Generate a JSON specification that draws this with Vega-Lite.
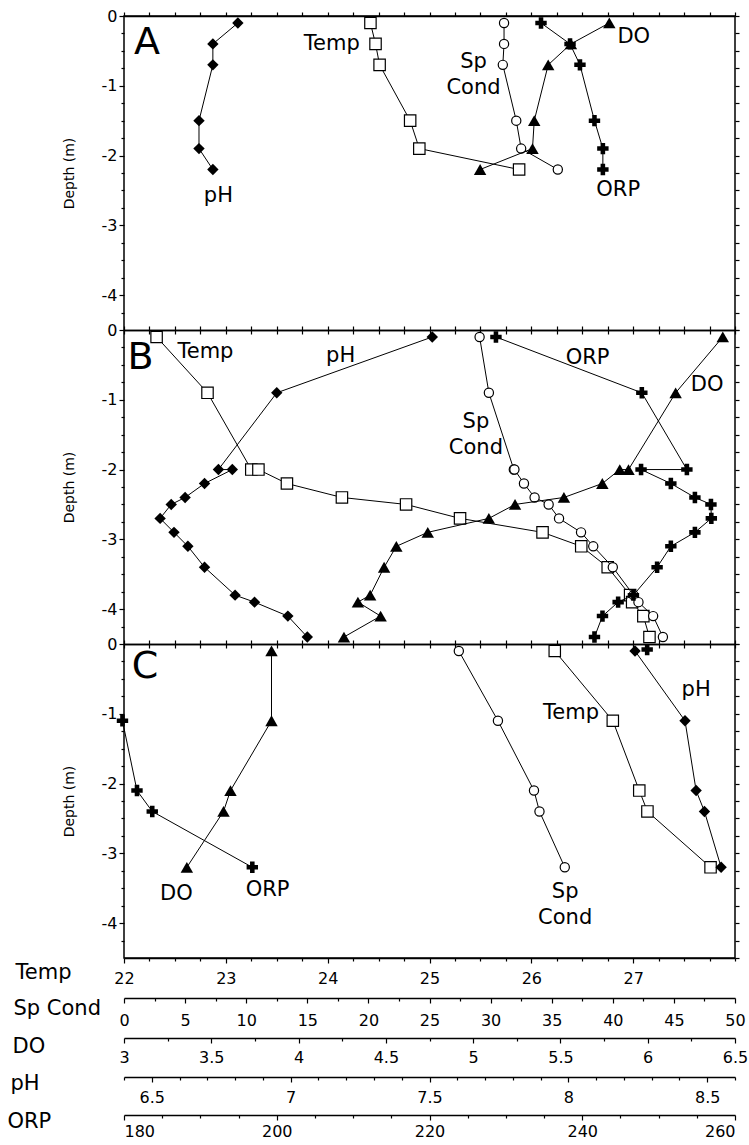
{
"$schema": "https://vega.github.io/schema/vega-lite/v6.json",
"background": "white",
"autosize": "none",
"padding": {"left": 124, "top": 16, "right": 14, "bottom": 187},
"width": 611,
"height": 942,
"datasets": {
"prof": [
{"p":"A","v":"Temp","d":-0.1,"x":24.42},{"p":"A","v":"Temp","d":-0.4,"x":24.47},{"p":"A","v":"Temp","d":-0.7,"x":24.51},{"p":"A","v":"Temp","d":-1.5,"x":24.81},{"p":"A","v":"Temp","d":-1.9,"x":24.90},{"p":"A","v":"Temp","d":-2.2,"x":25.88},
{"p":"A","v":"pH","d":-0.1,"x":6.81},{"p":"A","v":"pH","d":-0.4,"x":6.72},{"p":"A","v":"pH","d":-0.7,"x":6.72},{"p":"A","v":"pH","d":-1.5,"x":6.67},{"p":"A","v":"pH","d":-1.9,"x":6.67},{"p":"A","v":"pH","d":-2.2,"x":6.72},
{"p":"A","v":"SpC","d":-0.1,"x":31.1},{"p":"A","v":"SpC","d":-0.4,"x":31.1},{"p":"A","v":"SpC","d":-0.7,"x":31.0},{"p":"A","v":"SpC","d":-1.5,"x":32.1},{"p":"A","v":"SpC","d":-1.9,"x":32.5},{"p":"A","v":"SpC","d":-2.2,"x":35.5},
{"p":"A","v":"DO","d":-0.1,"x":5.78},{"p":"A","v":"DO","d":-0.4,"x":5.56},{"p":"A","v":"DO","d":-0.7,"x":5.43},{"p":"A","v":"DO","d":-1.5,"x":5.35},{"p":"A","v":"DO","d":-1.9,"x":5.34},{"p":"A","v":"DO","d":-2.2,"x":5.04},
{"p":"A","v":"ORP","d":-0.1,"x":234.6},{"p":"A","v":"ORP","d":-0.4,"x":238.4},{"p":"A","v":"ORP","d":-0.7,"x":239.7},{"p":"A","v":"ORP","d":-1.5,"x":241.6},{"p":"A","v":"ORP","d":-1.9,"x":242.7},{"p":"A","v":"ORP","d":-2.2,"x":242.7},
{"p":"B","v":"Temp","d":-0.1,"x":22.32},{"p":"B","v":"Temp","d":-0.9,"x":22.82},{"p":"B","v":"Temp","d":-2.0,"x":23.25},{"p":"B","v":"Temp","d":-2.0,"x":23.32},{"p":"B","v":"Temp","d":-2.2,"x":23.60},{"p":"B","v":"Temp","d":-2.4,"x":24.14},{"p":"B","v":"Temp","d":-2.5,"x":24.77},{"p":"B","v":"Temp","d":-2.7,"x":25.30},{"p":"B","v":"Temp","d":-2.9,"x":26.11},{"p":"B","v":"Temp","d":-3.1,"x":26.49},{"p":"B","v":"Temp","d":-3.4,"x":26.75},{"p":"B","v":"Temp","d":-3.8,"x":26.97},{"p":"B","v":"Temp","d":-3.9,"x":26.99},{"p":"B","v":"Temp","d":-4.1,"x":27.10},{"p":"B","v":"Temp","d":-4.4,"x":27.16},
{"p":"B","v":"pH","d":-0.1,"x":7.51},{"p":"B","v":"pH","d":-0.9,"x":6.95},{"p":"B","v":"pH","d":-2.0,"x":6.74},{"p":"B","v":"pH","d":-2.0,"x":6.79},{"p":"B","v":"pH","d":-2.2,"x":6.69},{"p":"B","v":"pH","d":-2.4,"x":6.62},{"p":"B","v":"pH","d":-2.5,"x":6.57},{"p":"B","v":"pH","d":-2.7,"x":6.53},{"p":"B","v":"pH","d":-2.9,"x":6.58},{"p":"B","v":"pH","d":-3.1,"x":6.63},{"p":"B","v":"pH","d":-3.4,"x":6.69},{"p":"B","v":"pH","d":-3.8,"x":6.80},{"p":"B","v":"pH","d":-3.9,"x":6.87},{"p":"B","v":"pH","d":-4.1,"x":6.99},{"p":"B","v":"pH","d":-4.4,"x":7.06},
{"p":"B","v":"SpC","d":-0.1,"x":29.1},{"p":"B","v":"SpC","d":-0.9,"x":29.86},{"p":"B","v":"SpC","d":-2.0,"x":31.9},{"p":"B","v":"SpC","d":-2.0,"x":31.95},{"p":"B","v":"SpC","d":-2.2,"x":32.73},{"p":"B","v":"SpC","d":-2.4,"x":33.6},{"p":"B","v":"SpC","d":-2.5,"x":34.75},{"p":"B","v":"SpC","d":-2.7,"x":35.6},{"p":"B","v":"SpC","d":-2.9,"x":37.4},{"p":"B","v":"SpC","d":-3.1,"x":38.4},{"p":"B","v":"SpC","d":-3.4,"x":40.0},{"p":"B","v":"SpC","d":-3.8,"x":41.7},{"p":"B","v":"SpC","d":-3.9,"x":42.1},{"p":"B","v":"SpC","d":-4.1,"x":43.3},{"p":"B","v":"SpC","d":-4.4,"x":44.1},
{"p":"B","v":"DO","d":-0.1,"x":6.43},{"p":"B","v":"DO","d":-0.9,"x":6.16},{"p":"B","v":"DO","d":-2.0,"x":5.89},{"p":"B","v":"DO","d":-2.0,"x":5.84},{"p":"B","v":"DO","d":-2.2,"x":5.74},{"p":"B","v":"DO","d":-2.4,"x":5.52},{"p":"B","v":"DO","d":-2.5,"x":5.24},{"p":"B","v":"DO","d":-2.7,"x":5.09},{"p":"B","v":"DO","d":-2.9,"x":4.74},{"p":"B","v":"DO","d":-3.1,"x":4.56},{"p":"B","v":"DO","d":-3.4,"x":4.49},{"p":"B","v":"DO","d":-3.8,"x":4.41},{"p":"B","v":"DO","d":-3.9,"x":4.34},{"p":"B","v":"DO","d":-4.1,"x":4.47},{"p":"B","v":"DO","d":-4.4,"x":4.26},
{"p":"B","v":"ORP","d":-0.1,"x":228.7},{"p":"B","v":"ORP","d":-0.9,"x":247.8},{"p":"B","v":"ORP","d":-2.0,"x":253.7},{"p":"B","v":"ORP","d":-2.0,"x":247.7},{"p":"B","v":"ORP","d":-2.2,"x":251.6},{"p":"B","v":"ORP","d":-2.4,"x":254.75},{"p":"B","v":"ORP","d":-2.5,"x":256.85},{"p":"B","v":"ORP","d":-2.7,"x":256.9},{"p":"B","v":"ORP","d":-2.9,"x":254.75},{"p":"B","v":"ORP","d":-3.1,"x":251.6},{"p":"B","v":"ORP","d":-3.4,"x":249.8},{"p":"B","v":"ORP","d":-3.8,"x":246.7},{"p":"B","v":"ORP","d":-3.9,"x":244.7},{"p":"B","v":"ORP","d":-4.1,"x":242.65},{"p":"B","v":"ORP","d":-4.4,"x":241.6},
{"p":"C","v":"Temp","d":-0.1,"x":26.23},{"p":"C","v":"Temp","d":-1.1,"x":26.80},{"p":"C","v":"Temp","d":-2.1,"x":27.06},{"p":"C","v":"Temp","d":-2.4,"x":27.14},{"p":"C","v":"Temp","d":-3.2,"x":27.76},
{"p":"C","v":"pH","d":-0.1,"x":8.24},{"p":"C","v":"pH","d":-1.1,"x":8.42},{"p":"C","v":"pH","d":-2.1,"x":8.46},{"p":"C","v":"pH","d":-2.4,"x":8.49},{"p":"C","v":"pH","d":-3.2,"x":8.55},
{"p":"C","v":"SpC","d":-0.1,"x":27.4},{"p":"C","v":"SpC","d":-1.1,"x":30.6},{"p":"C","v":"SpC","d":-2.1,"x":33.55},{"p":"C","v":"SpC","d":-2.4,"x":34.0},{"p":"C","v":"SpC","d":-3.2,"x":36.07},
{"p":"C","v":"DO","d":-0.1,"x":3.845},{"p":"C","v":"DO","d":-1.1,"x":3.845},{"p":"C","v":"DO","d":-2.1,"x":3.61},{"p":"C","v":"DO","d":-2.4,"x":3.57},{"p":"C","v":"DO","d":-3.2,"x":3.36},
{"p":"C","v":"ORP","d":-1.1,"x":179.8},{"p":"C","v":"ORP","d":-2.1,"x":181.7},{"p":"C","v":"ORP","d":-2.4,"x":183.7},{"p":"C","v":"ORP","d":-3.2,"x":196.8}
],
"extra": [{"p":"C","v":"ORP","d":-0.08,"x":248.5}],
"lab": [
{"p":"A","v":"Temp","t":"Temp","x":24.04,"d":-0.40},{"p":"A","v":"pH","t":"pH","x":6.74,"d":-2.58},{"p":"A","v":"SpC","t":"Sp\nCond","x":28.6,"d":-0.66},{"p":"A","v":"DO","t":"DO","x":5.92,"d":-0.30},{"p":"A","v":"ORP","t":"ORP","x":244.7,"d":-2.49},
{"p":"B","v":"Temp","t":"Temp","x":22.80,"d":-0.32},{"p":"B","v":"pH","t":"pH","x":7.18,"d":-0.37},{"p":"B","v":"SpC","t":"Sp\nCond","x":28.8,"d":-1.32},{"p":"B","v":"DO","t":"DO","x":6.34,"d":-0.79},{"p":"B","v":"ORP","t":"ORP","x":240.7,"d":-0.40},
{"p":"C","v":"Temp","t":"Temp","x":26.39,"d":-0.99},{"p":"C","v":"pH","t":"pH","x":8.46,"d":-0.66},{"p":"C","v":"SpC","t":"Sp\nCond","x":36.1,"d":-3.55},{"p":"C","v":"DO","t":"DO","x":3.30,"d":-3.58},{"p":"C","v":"ORP","t":"ORP","x":198.8,"d":-3.52}
],
"let": [{"p":"A","t":"A","x":22.226,"d":-0.394},{"p":"B","t":"B","x":22.162,"d":-0.401},{"p":"C","t":"C","x":22.206,"d":-0.33}]
},
"resolve": {"scale": {"x": "independent", "y": "independent"}},
"layer": [
{"data":{"name":"prof"},"transform":[{"filter":"datum.p=='A' && datum.v=='Temp'"}],"mark":{"type":"line","color":"black","strokeWidth":1,"point":{"shape":"square","size":130,"filled":true,"fill":"white","stroke":"black","strokeWidth":1.2}},"encoding":{"x":{"field":"x","type":"quantitative","scale":{"domain":[22,28],"nice":false,"zero":false},"axis":{"orient":"top","offset":0,"values":[22,22.25,22.5,22.75,23,23.25,23.5,23.75,24,24.25,24.5,24.75,25,25.25,25.5,25.75,26,26.25,26.5,26.75,27,27.25,27.5,27.75,28],"tickSize":4,"labels":false,"domain":true,"title":null}},"y":{"field":"d","type":"quantitative","scale":{"domain":[-4.5,0],"range":[314,0],"nice":false,"zero":false},"axis":{"orient":"left","values":[0,-1,-2,-3,-4],"tickSize":5,"labelPadding":2,"labelExpr":"datum.value == 0 ? '0' : '-' + abs(datum.value)","domain":false,"title":"Depth (m)","titleFontSize":14,"titleAngle":270,"titleAlign":"center","titleBaseline":"middle","titleX":-55,"titleY":157}},"order":{"value":null}}},
{"data":{"name":"lab"},"transform":[{"filter":"datum.p=='A' && datum.v=='Temp'"}],"mark":{"type":"text","font":"DejaVu Sans","fontSize":21,"color":"black","lineBreak":"\n","lineHeight":26},"encoding":{"x":{"field":"x","type":"quantitative","scale":{"domain":[22,28],"nice":false,"zero":false},"axis":{"orient":"bottom","offset":-628,"values":[22,22.25,22.5,22.75,23,23.25,23.5,23.75,24,24.25,24.5,24.75,25,25.25,25.5,25.75,26,26.25,26.5,26.75,27,27.25,27.5,27.75,28],"tickSize":4,"labels":false,"domain":true,"title":null}},"y":{"field":"d","type":"quantitative","scale":{"domain":[-4.5,0],"range":[314,0],"nice":false,"zero":false},"axis":{"orient":"left","values":[-0.25,-0.5,-0.75,-1.25,-1.5,-1.75,-2.25,-2.5,-2.75,-3.25,-3.5,-3.75,-4.25],"tickSize":3,"labels":false,"domain":false,"title":null}},"text":{"field":"t"}}},
{"data":{"name":"prof"},"transform":[{"filter":"datum.p=='A' && datum.v=='pH'"}],"mark":{"type":"line","color":"black","strokeWidth":1,"point":{"shape":"diamond","size":130,"filled":true,"fill":"black"}},"encoding":{"x":{"field":"x","type":"quantitative","scale":{"domain":[6.4,8.6],"nice":false,"zero":false},"axis":null},"y":{"field":"d","type":"quantitative","scale":{"domain":[-4.5,0],"range":[314,0],"nice":false,"zero":false},"axis":{"orient":"right","values":[0,-0.25,-0.5,-0.75,-1,-1.25,-1.5,-1.75,-2,-2.25,-2.5,-2.75,-3,-3.25,-3.5,-3.75,-4,-4.25,-4.5],"tickSize":4,"labels":false,"domain":false,"title":null}},"order":{"value":null}}},
{"data":{"name":"lab"},"transform":[{"filter":"datum.p=='A' && datum.v=='pH'"}],"mark":{"type":"text","font":"DejaVu Sans","fontSize":21,"color":"black","lineBreak":"\n","lineHeight":26},"encoding":{"x":{"field":"x","type":"quantitative","scale":{"domain":[6.4,8.6],"nice":false,"zero":false},"axis":null},"y":{"field":"d","type":"quantitative","scale":{"domain":[-4.5,0],"range":[314,0],"nice":false,"zero":false},"axis":null},"text":{"field":"t"}}},
{"data":{"name":"prof"},"transform":[{"filter":"datum.p=='A' && datum.v=='SpC'"}],"mark":{"type":"line","color":"black","strokeWidth":1,"point":{"shape":"circle","size":85,"filled":true,"fill":"white","stroke":"black","strokeWidth":1.2}},"encoding":{"x":{"field":"x","type":"quantitative","scale":{"domain":[0,50],"nice":false,"zero":false},"axis":null},"y":{"field":"d","type":"quantitative","scale":{"domain":[-4.5,0],"range":[314,0],"nice":false,"zero":false},"axis":null},"order":{"value":null}}},
{"data":{"name":"lab"},"transform":[{"filter":"datum.p=='A' && datum.v=='SpC'"}],"mark":{"type":"text","font":"DejaVu Sans","fontSize":21,"color":"black","lineBreak":"\n","lineHeight":26},"encoding":{"x":{"field":"x","type":"quantitative","scale":{"domain":[0,50],"nice":false,"zero":false},"axis":null},"y":{"field":"d","type":"quantitative","scale":{"domain":[-4.5,0],"range":[314,0],"nice":false,"zero":false},"axis":null},"text":{"field":"t"}}},
{"data":{"name":"prof"},"transform":[{"filter":"datum.p=='A' && datum.v=='DO'"}],"mark":{"type":"line","color":"black","strokeWidth":1,"point":{"shape":"triangle-up","size":155,"filled":true,"fill":"black"}},"encoding":{"x":{"field":"x","type":"quantitative","scale":{"domain":[3,6.5],"nice":false,"zero":false},"axis":null},"y":{"field":"d","type":"quantitative","scale":{"domain":[-4.5,0],"range":[314,0],"nice":false,"zero":false},"axis":null},"order":{"value":null}}},
{"data":{"name":"lab"},"transform":[{"filter":"datum.p=='A' && datum.v=='DO'"}],"mark":{"type":"text","font":"DejaVu Sans","fontSize":21,"color":"black","lineBreak":"\n","lineHeight":26},"encoding":{"x":{"field":"x","type":"quantitative","scale":{"domain":[3,6.5],"nice":false,"zero":false},"axis":null},"y":{"field":"d","type":"quantitative","scale":{"domain":[-4.5,0],"range":[314,0],"nice":false,"zero":false},"axis":null},"text":{"field":"t"}}},
{"data":{"name":"prof"},"transform":[{"filter":"datum.p=='A' && datum.v=='ORP'"}],"mark":{"type":"line","color":"black","strokeWidth":1,"point":{"shape":"cross","size":130,"filled":true,"fill":"black"}},"encoding":{"x":{"field":"x","type":"quantitative","scale":{"domain":[180,260],"nice":false,"zero":false},"axis":null},"y":{"field":"d","type":"quantitative","scale":{"domain":[-4.5,0],"range":[314,0],"nice":false,"zero":false},"axis":null},"order":{"value":null}}},
{"data":{"name":"lab"},"transform":[{"filter":"datum.p=='A' && datum.v=='ORP'"}],"mark":{"type":"text","font":"DejaVu Sans","fontSize":21,"color":"black","lineBreak":"\n","lineHeight":26},"encoding":{"x":{"field":"x","type":"quantitative","scale":{"domain":[180,260],"nice":false,"zero":false},"axis":null},"y":{"field":"d","type":"quantitative","scale":{"domain":[-4.5,0],"range":[314,0],"nice":false,"zero":false},"axis":null},"text":{"field":"t"}}},
{"data":{"name":"let"},"transform":[{"filter":"datum.p=='A'"}],"mark":{"type":"text","font":"DejaVu Sans","fontSize":38,"color":"black"},"encoding":{"x":{"field":"x","type":"quantitative","scale":{"domain":[22,28],"nice":false,"zero":false},"axis":null},"y":{"field":"d","type":"quantitative","scale":{"domain":[-4.5,0],"range":[314,0],"nice":false,"zero":false},"axis":null},"text":{"field":"t"}}},

{"data":{"name":"prof"},"transform":[{"filter":"datum.p=='B' && datum.v=='Temp'"}],"mark":{"type":"line","color":"black","strokeWidth":1,"point":{"shape":"square","size":130,"filled":true,"fill":"white","stroke":"black","strokeWidth":1.2}},"encoding":{"x":{"field":"x","type":"quantitative","scale":{"domain":[22,28],"nice":false,"zero":false},"axis":{"orient":"top","offset":-314,"values":[22,22.25,22.5,22.75,23,23.25,23.5,23.75,24,24.25,24.5,24.75,25,25.25,25.5,25.75,26,26.25,26.5,26.75,27,27.25,27.5,27.75,28],"tickSize":4,"labels":false,"domain":true,"title":null}},"y":{"field":"d","type":"quantitative","scale":{"domain":[-4.5,0],"range":[628,314],"nice":false,"zero":false},"axis":{"orient":"left","values":[0,-1,-2,-3,-4],"tickSize":5,"labelPadding":2,"labelExpr":"datum.value == 0 ? '0' : '-' + abs(datum.value)","domain":false,"title":"Depth (m)","titleFontSize":14,"titleAngle":270,"titleAlign":"center","titleBaseline":"middle","titleX":-55,"titleY":471}},"order":{"value":null}}},
{"data":{"name":"lab"},"transform":[{"filter":"datum.p=='B' && datum.v=='Temp'"}],"mark":{"type":"text","font":"DejaVu Sans","fontSize":21,"color":"black","lineBreak":"\n","lineHeight":26},"encoding":{"x":{"field":"x","type":"quantitative","scale":{"domain":[22,28],"nice":false,"zero":false},"axis":{"orient":"bottom","offset":-314,"values":[22,22.25,22.5,22.75,23,23.25,23.5,23.75,24,24.25,24.5,24.75,25,25.25,25.5,25.75,26,26.25,26.5,26.75,27,27.25,27.5,27.75,28],"tickSize":4,"labels":false,"domain":true,"title":null}},"y":{"field":"d","type":"quantitative","scale":{"domain":[-4.5,0],"range":[628,314],"nice":false,"zero":false},"axis":{"orient":"left","values":[-0.25,-0.5,-0.75,-1.25,-1.5,-1.75,-2.25,-2.5,-2.75,-3.25,-3.5,-3.75,-4.25],"tickSize":3,"labels":false,"domain":false,"title":null}},"text":{"field":"t"}}},
{"data":{"name":"prof"},"transform":[{"filter":"datum.p=='B' && datum.v=='pH'"}],"mark":{"type":"line","color":"black","strokeWidth":1,"point":{"shape":"diamond","size":130,"filled":true,"fill":"black"}},"encoding":{"x":{"field":"x","type":"quantitative","scale":{"domain":[6.4,8.6],"nice":false,"zero":false},"axis":null},"y":{"field":"d","type":"quantitative","scale":{"domain":[-4.5,0],"range":[628,314],"nice":false,"zero":false},"axis":{"orient":"right","values":[0,-0.25,-0.5,-0.75,-1,-1.25,-1.5,-1.75,-2,-2.25,-2.5,-2.75,-3,-3.25,-3.5,-3.75,-4,-4.25,-4.5],"tickSize":4,"labels":false,"domain":false,"title":null}},"order":{"value":null}}},
{"data":{"name":"lab"},"transform":[{"filter":"datum.p=='B' && datum.v=='pH'"}],"mark":{"type":"text","font":"DejaVu Sans","fontSize":21,"color":"black","lineBreak":"\n","lineHeight":26},"encoding":{"x":{"field":"x","type":"quantitative","scale":{"domain":[6.4,8.6],"nice":false,"zero":false},"axis":null},"y":{"field":"d","type":"quantitative","scale":{"domain":[-4.5,0],"range":[628,314],"nice":false,"zero":false},"axis":null},"text":{"field":"t"}}},
{"data":{"name":"prof"},"transform":[{"filter":"datum.p=='B' && datum.v=='SpC'"}],"mark":{"type":"line","color":"black","strokeWidth":1,"point":{"shape":"circle","size":85,"filled":true,"fill":"white","stroke":"black","strokeWidth":1.2}},"encoding":{"x":{"field":"x","type":"quantitative","scale":{"domain":[0,50],"nice":false,"zero":false},"axis":null},"y":{"field":"d","type":"quantitative","scale":{"domain":[-4.5,0],"range":[628,314],"nice":false,"zero":false},"axis":null},"order":{"value":null}}},
{"data":{"name":"lab"},"transform":[{"filter":"datum.p=='B' && datum.v=='SpC'"}],"mark":{"type":"text","font":"DejaVu Sans","fontSize":21,"color":"black","lineBreak":"\n","lineHeight":26},"encoding":{"x":{"field":"x","type":"quantitative","scale":{"domain":[0,50],"nice":false,"zero":false},"axis":null},"y":{"field":"d","type":"quantitative","scale":{"domain":[-4.5,0],"range":[628,314],"nice":false,"zero":false},"axis":null},"text":{"field":"t"}}},
{"data":{"name":"prof"},"transform":[{"filter":"datum.p=='B' && datum.v=='DO'"}],"mark":{"type":"line","color":"black","strokeWidth":1,"point":{"shape":"triangle-up","size":155,"filled":true,"fill":"black"}},"encoding":{"x":{"field":"x","type":"quantitative","scale":{"domain":[3,6.5],"nice":false,"zero":false},"axis":null},"y":{"field":"d","type":"quantitative","scale":{"domain":[-4.5,0],"range":[628,314],"nice":false,"zero":false},"axis":null},"order":{"value":null}}},
{"data":{"name":"lab"},"transform":[{"filter":"datum.p=='B' && datum.v=='DO'"}],"mark":{"type":"text","font":"DejaVu Sans","fontSize":21,"color":"black","lineBreak":"\n","lineHeight":26},"encoding":{"x":{"field":"x","type":"quantitative","scale":{"domain":[3,6.5],"nice":false,"zero":false},"axis":null},"y":{"field":"d","type":"quantitative","scale":{"domain":[-4.5,0],"range":[628,314],"nice":false,"zero":false},"axis":null},"text":{"field":"t"}}},
{"data":{"name":"prof"},"transform":[{"filter":"datum.p=='B' && datum.v=='ORP'"}],"mark":{"type":"line","color":"black","strokeWidth":1,"point":{"shape":"cross","size":130,"filled":true,"fill":"black"}},"encoding":{"x":{"field":"x","type":"quantitative","scale":{"domain":[180,260],"nice":false,"zero":false},"axis":null},"y":{"field":"d","type":"quantitative","scale":{"domain":[-4.5,0],"range":[628,314],"nice":false,"zero":false},"axis":null},"order":{"value":null}}},
{"data":{"name":"lab"},"transform":[{"filter":"datum.p=='B' && datum.v=='ORP'"}],"mark":{"type":"text","font":"DejaVu Sans","fontSize":21,"color":"black","lineBreak":"\n","lineHeight":26},"encoding":{"x":{"field":"x","type":"quantitative","scale":{"domain":[180,260],"nice":false,"zero":false},"axis":null},"y":{"field":"d","type":"quantitative","scale":{"domain":[-4.5,0],"range":[628,314],"nice":false,"zero":false},"axis":null},"text":{"field":"t"}}},
{"data":{"name":"let"},"transform":[{"filter":"datum.p=='B'"}],"mark":{"type":"text","font":"DejaVu Sans","fontSize":38,"color":"black"},"encoding":{"x":{"field":"x","type":"quantitative","scale":{"domain":[22,28],"nice":false,"zero":false},"axis":null},"y":{"field":"d","type":"quantitative","scale":{"domain":[-4.5,0],"range":[628,314],"nice":false,"zero":false},"axis":null},"text":{"field":"t"}}},

{"data":{"name":"prof"},"transform":[{"filter":"datum.p=='C' && datum.v=='Temp'"}],"mark":{"type":"line","color":"black","strokeWidth":1,"point":{"shape":"square","size":130,"filled":true,"fill":"white","stroke":"black","strokeWidth":1.2}},"encoding":{"x":{"field":"x","type":"quantitative","scale":{"domain":[22,28],"nice":false,"zero":false},"axis":{"orient":"top","offset":-628,"values":[22,22.25,22.5,22.75,23,23.25,23.5,23.75,24,24.25,24.5,24.75,25,25.25,25.5,25.75,26,26.25,26.5,26.75,27,27.25,27.5,27.75,28],"tickSize":4,"labels":false,"domain":true,"title":null}},"y":{"field":"d","type":"quantitative","scale":{"domain":[-4.5,0],"range":[942,628],"nice":false,"zero":false},"axis":{"orient":"left","values":[0,-1,-2,-3,-4],"tickSize":5,"labelPadding":2,"labelExpr":"datum.value == 0 ? '0' : '-' + abs(datum.value)","domain":false,"title":"Depth (m)","titleFontSize":14,"titleAngle":270,"titleAlign":"center","titleBaseline":"middle","titleX":-55,"titleY":785}},"order":{"value":null}}},
{"data":{"name":"lab"},"transform":[{"filter":"datum.p=='C' && datum.v=='Temp'"}],"mark":{"type":"text","font":"DejaVu Sans","fontSize":21,"color":"black","lineBreak":"\n","lineHeight":26},"encoding":{"x":{"field":"x","type":"quantitative","scale":{"domain":[22,28],"nice":false,"zero":false},"axis":{"orient":"bottom","offset":0,"values":[22,23,24,25,26,27],"format":"d","tickSize":5,"labelPadding":7,"domain":true,"title":"Temp","titleFontSize":21,"titleAngle":0,"titleAlign":"left","titleBaseline":"middle","titleX":-109,"titleY":14}},"y":{"field":"d","type":"quantitative","scale":{"domain":[-4.5,0],"range":[942,628],"nice":false,"zero":false},"axis":{"orient":"left","values":[-0.25,-0.5,-0.75,-1.25,-1.5,-1.75,-2.25,-2.5,-2.75,-3.25,-3.5,-3.75,-4.25],"tickSize":3,"labels":false,"domain":false,"title":null}},"text":{"field":"t"}}},
{"data":{"name":"let"},"transform":[{"filter":"datum.p=='C'"}],"mark":{"type":"text","font":"DejaVu Sans","fontSize":38,"color":"black"},"encoding":{"x":{"field":"x","type":"quantitative","scale":{"domain":[22,28],"nice":false,"zero":false},"axis":{"orient":"bottom","offset":0,"values":[22.25,22.5,22.75,23.25,23.5,23.75,24.25,24.5,24.75,25.25,25.5,25.75,26.25,26.5,26.75,27.25,27.5,27.75,28],"tickSize":3,"labels":false,"domain":false,"title":null}},"y":{"field":"d","type":"quantitative","scale":{"domain":[-4.5,0],"range":[942,628],"nice":false,"zero":false},"axis":{"orient":"right","values":[0,-0.25,-0.5,-0.75,-1,-1.25,-1.5,-1.75,-2,-2.25,-2.5,-2.75,-3,-3.25,-3.5,-3.75,-4,-4.25,-4.5],"tickSize":4,"labels":false,"domain":false,"title":null}},"text":{"field":"t"}}},
{"data":{"name":"prof"},"transform":[{"filter":"datum.p=='C' && datum.v=='pH'"}],"mark":{"type":"line","color":"black","strokeWidth":1,"point":{"shape":"diamond","size":130,"filled":true,"fill":"black"}},"encoding":{"x":{"field":"x","type":"quantitative","scale":{"domain":[6.4,8.6],"nice":false,"zero":false},"axis":{"orient":"bottom","offset":119,"values":[6.5,7,7.5,8,8.5],"format":".1~f","tickSize":5,"labelPadding":7,"domain":true,"title":"pH","titleFontSize":21,"titleAngle":0,"titleAlign":"left","titleBaseline":"middle","titleX":-114,"titleY":6}},"y":{"field":"d","type":"quantitative","scale":{"domain":[-4.5,0],"range":[942,628],"nice":false,"zero":false},"axis":null},"order":{"value":null}}},
{"data":{"name":"lab"},"transform":[{"filter":"datum.p=='C' && datum.v=='pH'"}],"mark":{"type":"text","font":"DejaVu Sans","fontSize":21,"color":"black","lineBreak":"\n","lineHeight":26},"encoding":{"x":{"field":"x","type":"quantitative","scale":{"domain":[6.4,8.6],"nice":false,"zero":false},"axis":{"orient":"bottom","offset":119,"values":[6.4,6.6,6.7,6.8,6.9,7.1,7.2,7.3,7.4,7.6,7.7,7.8,7.9,8.1,8.2,8.3,8.4,8.6],"tickSize":3,"labels":false,"domain":false,"title":null}},"y":{"field":"d","type":"quantitative","scale":{"domain":[-4.5,0],"range":[942,628],"nice":false,"zero":false},"axis":null},"text":{"field":"t"}}},
{"data":{"name":"prof"},"transform":[{"filter":"datum.p=='C' && datum.v=='SpC'"}],"mark":{"type":"line","color":"black","strokeWidth":1,"point":{"shape":"circle","size":85,"filled":true,"fill":"white","stroke":"black","strokeWidth":1.2}},"encoding":{"x":{"field":"x","type":"quantitative","scale":{"domain":[0,50],"nice":false,"zero":false},"axis":{"orient":"bottom","offset":40,"values":[0,5,10,15,20,25,30,35,40,45,50],"format":"d","tickSize":5,"labelPadding":9,"domain":true,"title":"Sp Cond","titleFontSize":21,"titleAngle":0,"titleAlign":"left","titleBaseline":"middle","titleX":-111,"titleY":10}},"y":{"field":"d","type":"quantitative","scale":{"domain":[-4.5,0],"range":[942,628],"nice":false,"zero":false},"axis":null},"order":{"value":null}}},
{"data":{"name":"lab"},"transform":[{"filter":"datum.p=='C' && datum.v=='SpC'"}],"mark":{"type":"text","font":"DejaVu Sans","fontSize":21,"color":"black","lineBreak":"\n","lineHeight":26},"encoding":{"x":{"field":"x","type":"quantitative","scale":{"domain":[0,50],"nice":false,"zero":false},"axis":{"orient":"bottom","offset":40,"values":[2.5,7.5,12.5,17.5,22.5,27.5,32.5,37.5,42.5,47.5],"tickSize":3,"labels":false,"domain":false,"title":null}},"y":{"field":"d","type":"quantitative","scale":{"domain":[-4.5,0],"range":[942,628],"nice":false,"zero":false},"axis":null},"text":{"field":"t"}}},
{"data":{"name":"prof"},"transform":[{"filter":"datum.p=='C' && datum.v=='DO'"}],"mark":{"type":"line","color":"black","strokeWidth":1,"point":{"shape":"triangle-up","size":155,"filled":true,"fill":"black"}},"encoding":{"x":{"field":"x","type":"quantitative","scale":{"domain":[3,6.5],"nice":false,"zero":false},"axis":{"orient":"bottom","offset":80,"values":[3,3.5,4,4.5,5,5.5,6,6.5],"format":".1~f","tickSize":5,"labelPadding":6,"domain":true,"title":"DO","titleFontSize":21,"titleAngle":0,"titleAlign":"left","titleBaseline":"middle","titleX":-112,"titleY":8}},"y":{"field":"d","type":"quantitative","scale":{"domain":[-4.5,0],"range":[942,628],"nice":false,"zero":false},"axis":null},"order":{"value":null}}},
{"data":{"name":"lab"},"transform":[{"filter":"datum.p=='C' && datum.v=='DO'"}],"mark":{"type":"text","font":"DejaVu Sans","fontSize":21,"color":"black","lineBreak":"\n","lineHeight":26},"encoding":{"x":{"field":"x","type":"quantitative","scale":{"domain":[3,6.5],"nice":false,"zero":false},"axis":{"orient":"bottom","offset":80,"values":[3.25,3.75,4.25,4.75,5.25,5.75,6.25],"tickSize":3,"labels":false,"domain":false,"title":null}},"y":{"field":"d","type":"quantitative","scale":{"domain":[-4.5,0],"range":[942,628],"nice":false,"zero":false},"axis":null},"text":{"field":"t"}}},
{"data":{"name":"prof"},"transform":[{"filter":"datum.p=='C' && datum.v=='ORP'"}],"mark":{"type":"line","color":"black","strokeWidth":1,"point":{"shape":"cross","size":130,"filled":true,"fill":"black"}},"encoding":{"x":{"field":"x","type":"quantitative","scale":{"domain":[180,260],"nice":false,"zero":false},"axis":{"orient":"bottom","offset":157,"values":[180,200,220,240,260],"format":"d","tickSize":5,"labelPadding":3,"labelFlush":true,"domain":true,"title":"ORP","titleFontSize":21,"titleAngle":0,"titleAlign":"left","titleBaseline":"middle","titleX":-117,"titleY":6}},"y":{"field":"d","type":"quantitative","scale":{"domain":[-4.5,0],"range":[942,628],"nice":false,"zero":false},"axis":null},"order":{"value":null}}},
{"data":{"name":"lab"},"transform":[{"filter":"datum.p=='C' && datum.v=='ORP'"}],"mark":{"type":"text","font":"DejaVu Sans","fontSize":21,"color":"black","lineBreak":"\n","lineHeight":26},"encoding":{"x":{"field":"x","type":"quantitative","scale":{"domain":[180,260],"nice":false,"zero":false},"axis":{"orient":"bottom","offset":157,"values":[185,190,195,205,210,215,225,230,235,245,250,255],"tickSize":3,"labels":false,"domain":false,"title":null}},"y":{"field":"d","type":"quantitative","scale":{"domain":[-4.5,0],"range":[942,628],"nice":false,"zero":false},"axis":null},"text":{"field":"t"}}},
{"data":{"name":"extra"},"mark":{"type":"point","shape":"cross","size":130,"filled":true,"color":"black","opacity":1},"encoding":{"x":{"field":"x","type":"quantitative","scale":{"domain":[180,260],"nice":false,"zero":false},"axis":null},"y":{"field":"d","type":"quantitative","scale":{"domain":[-4.5,0],"range":[942,628],"nice":false,"zero":false},"axis":null}}}
],
"config": {
"view": {"stroke": "black", "strokeWidth": 1.5},
"axis": {"domainColor": "black", "domainWidth": 1.5, "tickColor": "black", "tickWidth": 1.2, "labelColor": "black", "labelFont": "DejaVu Sans", "labelFontSize": 16, "labelFlush": false, "labelOverlap": false, "titleFont": "DejaVu Sans", "titleFontWeight": "normal", "titleColor": "black", "grid": false}
}
}
